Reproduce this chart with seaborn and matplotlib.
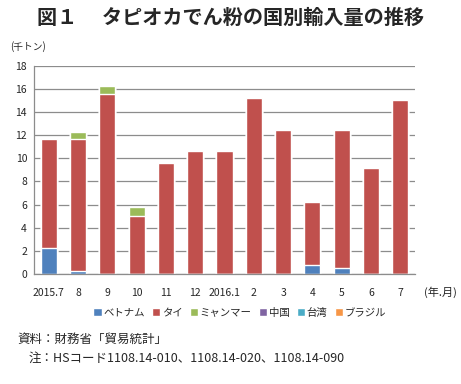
import seaborn as sns
import matplotlib.pyplot as plt
import numpy as np
from matplotlib.patches import Patch

months = ["2015.7", "8", "9", "10", "11", "12", "2016.1", "2", "3", "4", "5", "6", "7"]
countries = ["ベトナム", "タイ", "ミャンマー", "中国", "台湾", "ブラジル"]
colors = ["#4F81BD", "#C0504D", "#9BBB59", "#8064A2", "#4BACC6", "#F79646"]

vietnam = [2.2, 0.2, 0.0, 0.0, 0.0, 0.0, 0.0, 0.0, 0.0, 0.75, 0.5, 0.0, 0.0]
thai = [9.45, 11.45, 15.55, 5.05, 9.63, 10.67, 10.61, 15.25, 12.46, 5.45, 12.0, 9.14, 15.02]
myanmar = [0.0, 0.65, 0.7, 0.75, 0.0, 0.0, 0.0, 0.0, 0.0, 0.0, 0.0, 0.0, 0.0]
china = [0.0, 0.02, 0.0, 0.0, 0.0, 0.0, 0.0, 0.0, 0.0, 0.0, 0.0, 0.0, 0.0]
taiwan = [0.0] * 13
brazil = [0.0] * 13

sns.set_style("white")
plt.rcParams['font.family'] = ['Noto Sans CJK JP', 'DejaVu Sans']

fig = plt.figure(figsize=(4.61, 3.84), dpi=100)
ax = fig.add_axes([0.074, 0.287, 0.826, 0.541])

series = [vietnam, thai, myanmar, china, taiwan, brazil]
cum = np.cumsum(np.array(series), axis=0)
# draw from the top of the stack down so the lower layers sit in front
for i in range(len(series) - 1, -1, -1):
    sns.barplot(x=months, y=cum[i], color=colors[i], width=0.55,
                saturation=1, ax=ax, zorder=2)

ax.set_ylim(0, 18)
ax.set_yticks(range(0, 19, 2))
ax.yaxis.grid(True, color="#8c8c8c", linewidth=0.9, zorder=0)
ax.set_axisbelow(True)
for s in ["top", "right"]:
    ax.spines[s].set_visible(False)
for s in ["left", "bottom"]:
    ax.spines[s].set_color("#8c8c8c")
    ax.spines[s].set_linewidth(0.9)
ax.tick_params(axis="y", length=0, labelsize=7.5, pad=5)
ax.tick_params(axis="x", length=0, labelsize=7.5, pad=10)
ax.set_xlabel("")
ax.set_ylabel("")

fig.text(0.5, 0.955, "図１　 タピオカでん粉の国別輸入量の推移", ha="center", va="center",
         fontsize=14.5, fontweight="bold")
fig.text(0.022, 0.878, "(千トン)", fontsize=7, va="center")
fig.text(0.955, 0.238, "(年.月)", fontsize=8, va="center", ha="center")

handles = [Patch(facecolor=c, label=n) for c, n in zip(colors, countries)]
fig.legend(handles=handles, loc="center", bbox_to_anchor=(0.52, 0.185), ncol=6,
           frameon=False, fontsize=7.5, handlelength=0.8, handleheight=0.8,
           handletextpad=0.15, columnspacing=0.7)

fig.text(0.038, 0.115, "資料：財務省「貿易統計」", fontsize=9, va="center")
fig.text(0.062, 0.068, "注：HSコード1108.14-010、1108.14-020、1108.14-090", fontsize=9, va="center")

fig.savefig("out.png", dpi=100)
